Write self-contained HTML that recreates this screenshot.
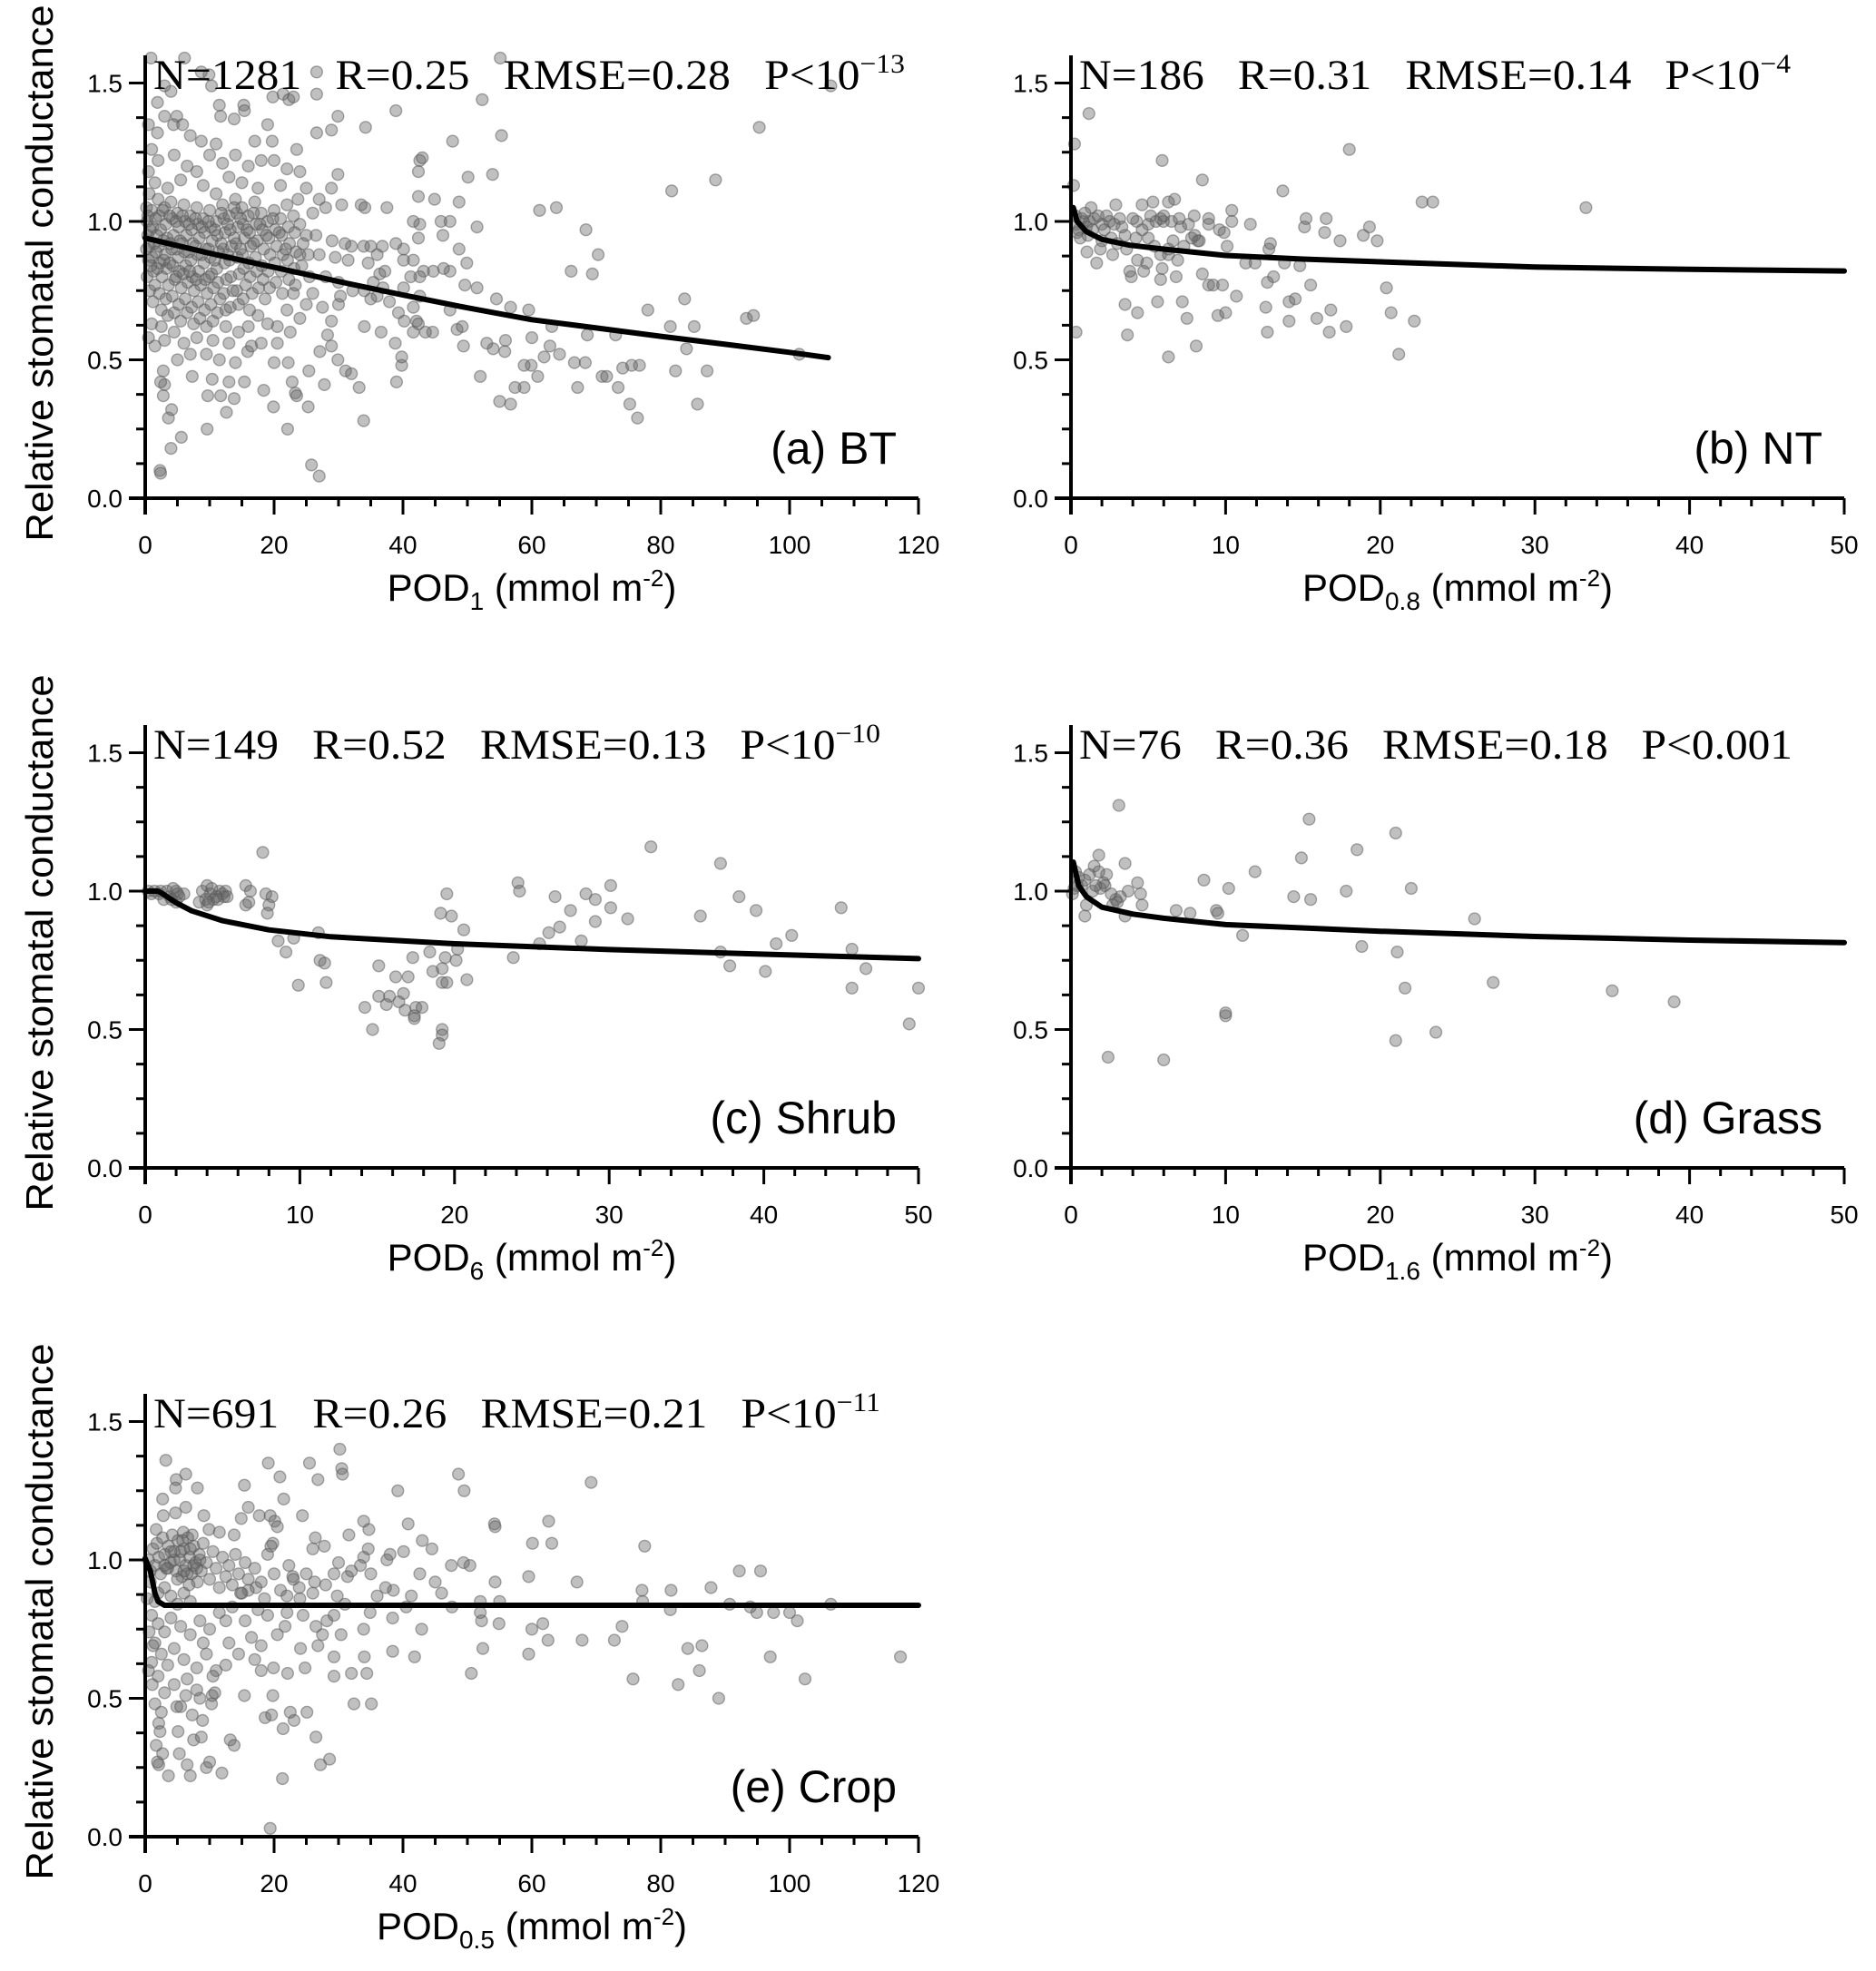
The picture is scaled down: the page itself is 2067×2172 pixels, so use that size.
<!DOCTYPE html>
<html><head><meta charset="utf-8"><style>
html,body{margin:0;padding:0;background:#fff;}
svg{display:block;}
text{fill:#000;}
.tick{font-family:"Liberation Sans",sans-serif;font-size:28px;}
.ttl{font-family:"Liberation Sans",sans-serif;font-size:42px;}
.ann{font-family:"Liberation Serif",serif;font-size:47px;}
.plab{font-family:"Liberation Sans",sans-serif;font-size:50px;}
</style></head><body>
<svg id="fig" width="2067" height="2172" viewBox="0 0 2067 2172" xmlns="http://www.w3.org/2000/svg"></svg>
<script>
// ---------- data (x = POD, y = relative stomatal conductance) ----------
const btPoints = [
[106.4,1.49],[95.3,1.34],[55.1,1.59],[52.3,1.44],[38.9,1.40],[34.2,1.34],[88.5,1.15],[81.7,1.11],[53.9,1.17],[47.7,1.29],[55.3,1.31],[50.1,1.16],[61.2,1.04],[63.8,1.05],[68.4,0.97],[70.3,0.88],[66.1,0.82],[69.4,0.81],[78,0.68],[83.7,0.72],[93.3,0.65],[94.4,0.66],[101.5,0.52],[81.5,0.62],[85.2,0.62],[82.3,0.46],[87.2,0.46],[85.7,0.34],[84,0.54],[76.4,0.29],[75.2,0.34],[73.4,0.40],[74.1,0.47],[75.5,0.48],[76.7,0.48],[73,0.59],[70.9,0.44],[71.6,0.44],[67.1,0.40],[66.6,0.49],[68.3,0.49],[68.6,0.59],[64.3,0.52],[63.1,0.62],[61.9,0.51],[62.8,0.55],[60.9,0.44],[59.9,0.48],[58.8,0.48],[58.8,0.40],[57.4,0.40],[56.7,0.34],[55,0.35],[52,0.44],[54,0.54],[55.9,0.57],[55.8,0.53],[53,0.56],[54.5,0.72],[56.7,0.69],[59.5,0.68],[60,0.58],[49.6,0.77],[51.5,0.76],[48.4,0.61],[49.2,0.62],[49.4,0.55],[47.3,0.68],[49.9,0.85],[47.3,0.82],[46.3,0.83],[48.7,0.90],[44.7,0.82],[43.2,0.82],[42.6,0.80],[41.2,0.80],[42.1,0.64],[44.6,0.60],[43.5,0.60],[41.6,0.60],[42.4,0.63],[40.2,0.64],[39.8,0.48],[39,0.42],[39.8,0.51],[38.8,0.56],[36.6,0.60],[34,0.62],[33.9,0.28],[33.2,0.40],[31.1,0.46],[32,0.45],[29.9,0.50],[27.1,0.53],[28.9,0.55],[28.3,0.59],[28.9,0.64],[27.5,0.69],[30,0.70],[30.3,0.73],[32.2,0.75],[34,0.75],[35,0.72],[36,0.73],[37.9,0.71],[39.3,0.67],[41.6,0.69],[40.1,0.86],[41.6,0.86],[42.4,0.94],[42.6,0.99],[41.6,1.00],[42.4,1.09],[44.9,1.08],[45.9,1.00],[47.3,1.00],[46.2,0.95],[48.7,1.07],[51.5,0.98],[42.6,1.22],[43,1.23],[42.4,1.18],[33.5,1.06],[34.1,1.05],[37.5,1.05],[32,0.91],[33.9,0.91],[35,0.91],[36,0.88],[36.8,0.91],[34.6,0.85],[36.4,0.81],[37.2,0.82],[35.4,0.78],[36.9,0.76],[40.1,0.90],[38.9,0.92],[42.6,0.73],[40.1,0.76],
[2.3,0.10],[2.4,0.09],[9.6,0.25],[4.0,0.18],[5.6,0.22],[3.6,0.29],[4.1,0.32],[2.8,0.37],[3,0.41],[2.4,0.42],[2.8,0.46],[7.3,0.44],[9.7,0.37],[10.4,0.43],[11.7,0.37],[12.6,0.31],[13,0.42],[13.8,0.36],[15.4,0.42],[15.9,0.53],[18.4,0.39],[19.9,0.33],[22.1,0.25],[22.8,0.42],[23.3,0.38],[23.5,0.37],[25.3,0.33],[25.8,0.12],[27,0.08],[27.8,0.41],[25.4,0.46],[22.2,0.49],[20,0.49],
[0.9,1.59],[9.9,1.53],[10.3,1.49],[3,1.49],[4,1.47],[1.9,1.43],[4.9,1.38],[3,1.38],[4.4,1.35],[5.8,1.35],[1.9,1.32],[0.5,1.35],[15.3,1.42],[15.4,1.40],[13.8,1.37],[11.5,1.42],[11.7,1.38],[19.8,1.45],[21.4,1.46],[22.3,1.44],[23,1.45],[19,1.35],[19.7,1.29],[17,1.29],[23.5,1.26],[26.6,1.32],[26.6,1.46],[26.6,1.54],[28.9,1.33],[29.9,1.38],[29.9,1.17],[28.9,1.12],[27,1.08],[23.7,1.08],[6.1,1.59],[8.7,1.54],[11,1.28],[8.7,1.29],[7,1.31],[1,1.26],[2,1.22],[4.5,1.24],[6.5,1.20],[8,1.18],[10,1.24],[12,1.21],[14,1.24],[16,1.20],[18,1.22],[20,1.22],[22,1.19],[24,1.18],[13,1.16],[15,1.14],[17.5,1.12],[21,1.13],[25,1.12],[1.5,1.14],[3.5,1.12],[5.5,1.15],[9,1.13],[11,1.10],[0.5,1.18],[26,1.03],[28,1.05],[30.5,1.06],[29,0.93],[31,0.92],[26.5,0.95],[24.5,0.92],[24,0.88],[27,0.88],[29.5,0.87],[31.5,0.86],[25.5,0.80],[28,0.80],[30,0.78],[26,0.74],[23,0.74],[25,0.70],[22,0.68],[24,0.65],[20.5,0.62],[22.5,0.60],[19,0.63],[17.5,0.66],[16,0.62],[14.5,0.60],[12.5,0.62],[18,0.56],[20.5,0.56],[16.5,0.55],[13,0.56],[10.5,0.57],[8,0.58],[6,0.56],[4.5,0.60],[2.5,0.62],[1,0.63],[3,0.57],[7,0.52],[9.5,0.52],[11.5,0.50],[14,0.49],[5,0.50],[1.5,0.55],[0.5,0.58],
[0.2,1.05],[0.3,1.0],[0.4,0.95],[0.2,0.90],[0.5,0.86],[0.3,0.80],[0.6,1.10],[0.7,0.75],[1,1.04],[1.2,0.98],[1.4,0.92],[1.1,0.87],[1.3,0.82],[1.5,0.77],[1.2,0.71],[2,1.08],[2.2,1.02],[2.4,0.97],[2.1,0.91],[2.3,0.85],[2.6,0.80],[2.2,0.74],[2.5,0.68],[3,1.05],[3.2,0.99],[3.4,0.94],[3.1,0.88],[3.3,0.83],[3.6,0.77],[3.2,0.72],[3.5,0.66],[4,1.07],[4.2,1.01],[4.4,0.95],[4.1,0.90],[4.3,0.84],[4.6,0.79],[4.2,0.73],[4.5,0.67],[5,1.03],[5.2,0.98],[5.4,0.93],[5.1,0.87],[5.3,0.82],[5.6,0.76],[5.2,0.70],[5.5,0.64],[6,1.06],[6.2,1.00],[6.4,0.95],[6.1,0.89],[6.3,0.84],[6.6,0.78],[6.2,0.72],[6.5,0.67],[7,1.02],[7.2,0.97],[7.4,0.92],[7.1,0.86],[7.3,0.80],[7.6,0.75],[7.2,0.69],[7.5,0.63],[8,1.05],[8.2,0.99],[8.4,0.94],[8.1,0.88],[8.3,0.82],[8.6,0.77],[8.2,0.71],[8.5,0.65],[9,1.01],[9.2,0.96],[9.4,0.90],[9.1,0.85],[9.3,0.79],[9.6,0.74],[9.2,0.68],[9.5,0.62],[10,1.04],[10.2,0.98],[10.4,0.93],[10.1,0.87],[10.3,0.81],[10.6,0.76],[10.2,0.70],[10.5,0.64],[11,1.00],[11.2,0.95],[11.4,0.89],[11.1,0.83],[11.3,0.78],[11.6,0.72],[11.2,0.67],[12,1.06],[12.2,1.01],[12.4,0.96],[12.1,0.90],[12.3,0.85],[12.6,0.79],[12.2,0.74],[12.5,0.68],[13,1.02],[13.2,0.97],[13.4,0.91],[13.1,0.86],[13.3,0.80],[13.6,0.75],[13.2,0.69],[14,1.08],[14.2,1.03],[14.4,0.98],[14.1,0.92],[14.3,0.87],[14.6,0.81],[14.2,0.75],[14.5,0.70],[15,1.05],[15.2,0.99],[15.4,0.94],[15.1,0.88],[15.3,0.83],[15.6,0.77],[15.2,0.72],[16,1.02],[16.2,0.96],[16.4,0.91],[16.1,0.85],[16.3,0.80],[16.6,0.74],[16.2,0.68],[17,1.07],[17.2,0.99],[17.4,0.93],[17.1,0.87],[17.3,0.82],[17.6,0.76],[18,1.03],[18.2,0.97],[18.4,0.90],[18.1,0.84],[18.3,0.79],[18.6,0.72],[19,1.00],[19.2,0.94],[19.4,0.88],[19.1,0.82],[19.3,0.76],[20,1.04],[20.2,0.97],[20.4,0.91],[20.1,0.85],[20.3,0.78],[21,1.01],[21.2,0.95],[21.4,0.88],[21.1,0.82],[21.3,0.74],[22,1.06],[22.2,0.98],[22.4,0.92],[22.1,0.86],[22.3,0.79],[23,1.02],[23.2,0.96],[23.4,0.89],[23.1,0.83],[23.3,0.77],[24,0.99],[24.3,0.84],[25,0.95],[25.3,0.88],
[0.4,1.02],[0.8,0.97],[0.6,0.91],[0.9,0.84],[1.6,1.01],[1.8,0.95],[1.7,0.89],[1.9,0.83],[2.7,1.04],[2.8,0.93],[2.9,0.86],[3.8,1.02],[3.9,0.92],[3.8,0.85],[4.8,1.00],[4.9,0.90],[4.8,0.80],[5.8,1.02],[5.8,0.92],[5.9,0.81],[6.8,0.99],[6.8,0.89],[6.9,0.82],[7.8,1.01],[7.8,0.91],[7.9,0.79],[8.8,0.98],[8.8,0.88],[9.8,1.00],[9.8,0.90],[9.9,0.80],[10.8,0.97],[10.8,0.86],[11.8,1.03],[11.8,0.92],[12.8,0.99],[12.8,0.88],[13.8,1.05],[13.8,0.94],[14.8,1.01],[14.8,0.90],[15.8,0.97],[16.8,1.03],[16.8,0.92],[17.8,0.99],[18.8,0.95],[19.8,1.01],[20.8,0.96],[21.8,0.90]
];
const ntPoints = [
[1.16,1.39],[0.23,1.28],[0.17,1.13],[5.9,1.22],[8.5,1.15],[13.7,1.11],[18,1.26],[22.7,1.07],[23.4,1.07],[33.3,1.05],[0.33,0.60],[3.65,0.59],[6.3,0.51],[8.1,0.55],[21.2,0.52],[12.7,0.60],[16.7,0.60],[17.8,0.62],[22.2,0.64],[20.7,0.67],[20.4,0.76],[3.5,0.70],[4.3,0.67],[5.6,0.71],[7.2,0.71],[7.5,0.65],[9.5,0.66],[10,0.67],[10.7,0.73],[12.6,0.69],[14.1,0.64],[14.1,0.71],[14.5,0.72],[15.9,0.65],[16.8,0.68],[15.5,0.77],[13.1,0.80],[12.7,0.78],[8.9,0.77],[9.2,0.77],[9.8,0.77],[8.5,0.81],[6.8,0.80],[5.8,0.79],[3.9,0.80],[3.8,0.82],[4.7,0.82],[4.9,0.85],[5.9,0.83],[4.3,0.86],[1.66,0.85],[1.03,0.89],[1.9,0.90],[2.7,0.88],[3.6,0.90],[5.8,0.88],[6.3,0.88],[6.9,0.86],[6.3,0.90],[7.3,0.91],[8.2,0.93],[8.3,0.93],[10.1,0.91],[11.3,0.85],[11.9,0.85],[12.8,0.90],[12.9,0.92],[13.8,0.85],[14.8,0.84],[17.4,0.93],[18.9,0.95],[19.8,0.93],[19.3,0.98],[16.4,0.96],[15.1,0.98],[15.2,1.01],[16.5,1.01],[11.6,0.99],[10.4,1.0],[10.4,1.04],[9.6,0.97],[9.9,0.96],[8.9,1.01],[7.97,1.02],[7.8,0.94],[7.1,0.98],[6.5,1.0],[6.7,1.08],[6.3,1.07],[5.3,1.07],[4.6,1.06],[2.9,1.06],[1.3,1.05],[5.0,0.99],[4.2,0.94],[5,0.94],[3.5,0.95],[5.98,1.0],[5.15,1.02],[3.15,1.01],[2.5,1.0],[2,0.99],[1.5,1.01],[0.8,1.0],[0.33,0.99],[0.5,0.97],[0.6,0.94],[1.2,1.0],[1.76,1.02],[2.16,0.97],[2.8,0.99],[4.25,1.0],[5.5,1.0],[5.8,1.01],[8.9,0.99],[0.3,1.02],[0.7,1.01],[1.0,0.98],[1.4,0.97],[0.9,1.03],[2.3,1.02],[3.3,0.98],[4.0,1.01],[6.0,1.02],[7.0,1.01],[7.6,0.99],[8.0,0.95],[2.0,0.93],[2.6,0.94],[3.0,0.92],[4.6,0.97],[5.4,0.91],[6.6,0.93],[0.4,0.96],[1.1,0.95]
];
const shrubPoints = [
[7.6,1.14],[32.7,1.16],[37.2,1.10],[6.5,1.02],[6.8,1.0],[6.5,0.95],[6.7,0.96],[7.8,0.99],[8.2,0.98],[8,0.95],[7.9,0.92],[24.1,1.03],[24.2,1.0],[26.5,0.98],[28.5,0.99],[29.1,0.97],[30.1,1.02],[30.1,0.94],[27.5,0.93],[31.2,0.90],[29.1,0.89],[35.9,0.91],[38.4,0.98],[39.5,0.93],[45,0.94],[41.8,0.84],[40.8,0.81],[45.7,0.79],[46.6,0.72],[37.2,0.78],[37.8,0.73],[40.1,0.71],[45.7,0.65],[50,0.65],[49.4,0.52],[26.8,0.87],[26.1,0.85],[28.2,0.82],[25.5,0.81],[23.8,0.76],[20.6,0.86],[20.2,0.79],[20.1,0.75],[20.8,0.68],[19.8,0.91],[19.1,0.92],[19.5,0.99],[18.4,0.78],[19.4,0.76],[19.2,0.72],[18.6,0.71],[19.2,0.67],[19.5,0.67],[17.3,0.76],[17,0.69],[16.2,0.69],[15.1,0.73],[15.1,0.62],[15.8,0.62],[16.7,0.63],[16.4,0.60],[15.6,0.59],[14.2,0.58],[16.8,0.57],[17.5,0.58],[17.9,0.58],[17.4,0.55],[17.4,0.54],[14.7,0.50],[19.2,0.50],[19.2,0.48],[19,0.45],[11.2,0.85],[9.6,0.83],[8.6,0.82],[9.1,0.78],[11.3,0.75],[11.6,0.74],[9.9,0.66],[11.7,0.67],
[0.2,1.0],[0.4,0.99],[0.6,1.0],[0.9,0.99],[1.4,1.0],[1.6,0.98],[2.0,1.0],[2.0,0.96],[2.2,0.98],[1.8,1.01],[1.2,0.97],[2.5,0.99],[3.7,1.0],[4.0,1.02],[4.2,0.99],[4.4,0.97],[4.8,1.0],[5.1,0.98],[5.0,0.99],[4.3,1.01],[4.0,0.95],[3.9,0.97],[4.6,0.98],[5.2,1.0],[3.5,0.96],[1.0,1.0],[2.1,0.99],[4.7,0.97],[5.3,0.98],[4.1,0.96],[1.7,0.97]
];
const grassPoints = [
[3.1,1.31],[15.4,1.26],[21,1.21],[18.5,1.15],[14.9,1.12],[11.9,1.07],[8.6,1.04],[10.2,1.01],[14.4,0.98],[15.5,0.97],[17.8,1.0],[22,1.01],[26.1,0.90],[18.8,0.80],[21.1,0.78],[11.1,0.84],[21.6,0.65],[27.3,0.67],[35,0.64],[39,0.60],[10,0.55],[10,0.56],[21,0.46],[23.6,0.49],[2.4,0.40],[6,0.39],[6.8,0.93],[7.7,0.92],[9.4,0.93],[9.5,0.92],[3.5,1.10],[1.8,1.13],[1.5,1.09],[4.3,1.03],[4.5,0.99],[4.6,0.95],[3.5,0.91],[0.9,0.91],[1.0,0.95],[2.7,0.95],[2.9,0.97],[3.7,1.0],[2.3,1.06],[2.2,1.02],[1.8,1.07],[0.3,1.07],[0.5,1.05],[0.2,1.01],[0.1,0.99],[0.7,1.02],[1.2,1.06],[1.4,1.0],[1.9,1.01],[2.6,0.99],[2.1,1.03],[0.9,1.04],[0.4,1.02],[1.6,1.02],[3.2,0.98],[3.0,0.96]
];
const cropPoints = [
[30.2,1.40],[3.2,1.36],[19.1,1.35],[25.5,1.35],[30.5,1.33],[30.6,1.31],[6.3,1.31],[4.8,1.29],[20.9,1.30],[26.8,1.29],[48.6,1.31],[69.2,1.28],[4.7,1.26],[8.1,1.26],[15.4,1.27],[39.2,1.25],[49.5,1.25],[21.5,1.22],[2.7,1.22],[6.3,1.19],[16,1.19],[4.7,1.17],[9.1,1.16],[2.8,1.16],[17.7,1.16],[19.4,1.16],[24.4,1.16],[14.9,1.15],[20.1,1.14],[20.5,1.12],[33.9,1.14],[40.8,1.13],[54.2,1.13],[54.3,1.12],[62.6,1.14],[34.7,1.11],[9.9,1.11],[1.7,1.11],[5.9,1.10],[7.3,1.09],[11.5,1.10],[13.8,1.09],[31.6,1.09],[60.1,1.06],[63.1,1.06],[77.5,1.05],[26.4,1.08],[19.8,1.06],[43,1.07],[44.5,1.04],[40.1,1.03],[38,1.02],[34.6,1.04],[33.9,1.01],[27.8,1.05],[26,1.04],
[19.4,0.03],[21.3,0.21],[3.6,0.22],[7,0.22],[11.9,0.23],[9.5,0.25],[10,0.27],[6.5,0.26],[2.1,0.26],[1.9,0.27],[2.7,0.30],[1.7,0.33],[5.3,0.30],[7.5,0.35],[8.7,0.36],[13.2,0.35],[13.8,0.33],[26.5,0.36],[27.2,0.26],[28.6,0.28],[21.4,0.39],[18.6,0.43],[19.6,0.44],[23.1,0.42],[22.5,0.45],[25.1,0.45],[5.1,0.38],[2.1,0.41],[2.3,0.38],[8.9,0.42],[7.3,0.44],[4.9,0.47],[6.3,0.51],[8.5,0.50],[10.3,0.48],[10.4,0.51],[10.8,0.52],[15.4,0.51],[19.8,0.51],[32.4,0.48],[35.1,0.48],[89,0.50],[102.4,0.57],[82.7,0.55],[75.7,0.57],[86,0.60],[97,0.65],[117.2,0.65],[84.2,0.68],[86.4,0.69],[50.6,0.59],[41.8,0.65],[38.4,0.67],[34,0.65],[29.3,0.65],[32,0.59],[34.4,0.59],[29.3,0.58],[22.1,0.59],[18,0.60],[19.9,0.61],[17,0.64],[24.8,0.61],[24.1,0.68],[26.8,0.69],[59.5,0.66],[52.4,0.68],[62.5,0.71],[67.8,0.71],[72.8,0.71],[74,0.76],[60,0.75],[61.7,0.77],[54.9,0.77],[52.2,0.78],[42.9,0.75],[33.9,0.75],[30.4,0.73],[27.5,0.73],[21.7,0.76],[26.5,0.76],[28.2,0.78],[29.3,0.80],[38.4,0.79],[34.9,0.81],[101.2,0.78],[100,0.81],[97.5,0.81],[94.9,0.81],[93.9,0.83],[90.7,0.84],[106.4,0.84],[81.5,0.82],[92.2,0.96],[95.5,0.96],[87.8,0.90],[81.6,0.89],[77.1,0.89],[77.2,0.85],[67,0.92],[59.5,0.94],[54.3,0.92],[55,0.85],[52,0.85],[52,0.81],[47.6,0.83],[46,0.88],[45,0.92],[42.6,0.95],[47.5,0.98],[49.4,0.99],[50.4,0.98],[41.3,0.87],[40.5,0.83],[38.5,0.89],[36,0.87],[37.3,0.90],[37.5,1.0],[35,0.95],[33.4,0.98],[31.4,0.94],[29.3,0.95],[31,0.84],[29.8,0.87],[26.3,0.92],[23.9,0.90],[22.9,0.94],[22.3,0.98],[19,1.02],[19.5,1.05],[17.2,0.90],[16,0.89],[14.8,0.88],
[0.5,1.0],[0.8,0.96],[1.2,1.04],[1.5,0.98],[1.8,1.06],[2.1,1.01],[2.4,0.95],[2.7,1.08],[3.0,1.02],[3.3,0.97],[3.6,1.05],[3.9,0.99],[4.2,1.09],[4.5,1.03],[4.8,0.96],[5.1,1.07],[5.4,1.0],[5.7,0.94],[6.0,1.04],[6.3,0.98],[6.6,1.08],[6.9,1.01],[7.2,0.95],[7.5,1.05],[7.8,0.99],[8.1,0.92],[8.4,1.02],[8.7,0.96],[9.0,1.06],[9.5,0.99],[10,0.93],[10.5,1.03],[11,0.97],[11.5,0.90],[12,1.01],[12.5,0.94],[13,0.98],[13.5,0.91],[14,1.02],[14.5,0.95],[15,0.88],[15.5,0.99],[16,0.93],[17,0.97],[18,0.92],[18.5,0.86],[20,0.95],[21,0.89],[22,0.87],[23,0.93],[24,0.86],[25,0.95],[26,0.88],[28,0.91],[30,0.99],[32,0.96],[3.0,0.90],[2.0,0.88],[1.5,0.85],[4.0,0.87],[5.0,0.84],[6.0,0.88],[7.0,0.85],[1.0,0.80],[2.0,0.77],[3.0,0.74],[4.0,0.79],[5.5,0.76],[7.0,0.73],[8.5,0.78],[10,0.75],[11.5,0.81],[13,0.70],[12.5,0.78],[9,0.70],[1.5,0.70],[2.5,0.66],[3.5,0.62],[1.0,0.63],[2.0,0.58],[4.5,0.68],[6.0,0.64],[8.0,0.61],[9.5,0.66],[11,0.60],[6.5,0.57],[4.5,0.55],[3.0,0.52],[1.5,0.48],[2.5,0.45],[5.5,0.47],[8.0,0.53],[10.5,0.58],[12.5,0.62],[14.5,0.66],[0.8,0.92],[0.3,0.86],[0.6,0.74],[1.2,0.69],[0.5,0.60],[1.1,0.55],[13.5,0.83],[15.5,0.78],[17.5,0.82],[19,0.80],[16.5,0.72],[18,0.69],[20.5,0.73],[22,0.81],[24.5,0.80],
[3.5,0.97],[4.5,1.0],[5.5,1.03],[6.5,0.95],[7.5,0.98],[8.5,1.0],[5.0,0.93],[6.0,0.96],[7.0,1.04],[4.0,1.03],[3.0,0.98],[8.0,0.97],[6.8,0.91],[5.8,1.07]
];
// fitted curves: [x, y]
const btCurve = [[0,0.94],[10,0.885],[20,0.834],[30,0.783],[40,0.734],[50,0.688],[60,0.645],[70,0.615],[80,0.585],[90,0.556],[100,0.527],[106,0.508]];
const ntCurve = [[0.15,1.05],[0.4,1.0],[1,0.963],[2,0.935],[3.8,0.914],[6,0.9],[10,0.877],[15,0.864],[20,0.854],[30,0.835],[40,0.827],[50,0.821]];
const shrubCurve = [[0,1.0],[0.8,1.0],[1,0.995],[2,0.958],[3,0.929],[5,0.893],[8,0.86],[12,0.835],[20,0.81],[30,0.789],[40,0.772],[50,0.756]];
const grassCurve = [[0.15,1.105],[0.5,1.02],[1,0.98],[2,0.942],[4,0.917],[6,0.902],[10,0.879],[20,0.855],[30,0.836],[40,0.823],[50,0.814]];
const cropCurve = [[0,1.005],[0.8,0.96],[1.5,0.88],[2,0.85],[3,0.836],[120,0.836]];
// ticks
const xTicks120 = [0,20,40,60,80,100,120];
const xTicks50 = [0,10,20,30,40,50];
const yTicks = [0,0.5,1.0,1.5];
const yTickLabels = ["0.0","0.5","1.0","1.5"];

// ---------- drawing ----------
const NS = "http://www.w3.org/2000/svg";
const svg = document.getElementById('fig');
function mk(tag, attrs, parent) {
  const e = document.createElementNS(NS, tag);
  for (const k in attrs) e.setAttribute(k, attrs[k]);
  (parent || svg).appendChild(e);
  return e;
}
const SP = '\u00a0\u00a0\u00a0';
const PPU = 305;
const panels = [
  {id:'a', pts:btPoints, curve:btCurve, left:160, right:1012, y0:549, xmax:120, ticks:xTicks120, minor:5, sub:'1', label:'(a) BT', stats:['N=1281','R=0.25','RMSE=0.28','P<10','\u221213'], statW:828},
  {id:'b', pts:ntPoints, curve:ntCurve, left:1180, right:2032, y0:549, xmax:50, ticks:xTicks50, minor:2, sub:'0.8', label:'(b) NT', stats:['N=186','R=0.31','RMSE=0.14','P<10','\u22124'], statW:784},
  {id:'c', pts:shrubPoints, curve:shrubCurve, left:160, right:1012, y0:1287, xmax:50, ticks:xTicks50, minor:2, sub:'6', label:'(c) Shrub', stats:['N=149','R=0.52','RMSE=0.13','P<10','\u221210'], statW:801},
  {id:'d', pts:grassPoints, curve:grassCurve, left:1180, right:2032, y0:1287, xmax:50, ticks:xTicks50, minor:2, sub:'1.6', label:'(d) Grass', stats:['N=76','R=0.36','RMSE=0.18','P<0.001',''], statW:786},
  {id:'e', pts:cropPoints, curve:cropCurve, left:160, right:1012, y0:2024, xmax:120, ticks:xTicks120, minor:5, sub:'0.5', label:'(e) Crop', stats:['N=691','R=0.26','RMSE=0.21','P<10','\u221211'], statW:801}
];
panels.forEach(p => {
  const g = mk('g', {});
  
  
  const sx = v => p.left + v / p.xmax * (p.right - p.left);
  const sy = v => p.y0 - v * PPU;
  const pg = mk('g', {}, g);
  
  
  p.pts.forEach(d => {
    const c = mk('circle', {cx: sx(d[0]).toFixed(1), cy: sy(d[1]).toFixed(1), r: 6.4, fill: '#6a6a6a', 'fill-opacity': 0.42, stroke: '#555', 'stroke-opacity': 0.5, 'stroke-width': 1.4}, pg);
    
    
  });
  const path = mk('path', {d: p.curve.map((d, i) => (i ? 'L' : 'M') + sx(d[0]).toFixed(1) + ' ' + sy(d[1]).toFixed(1)).join(' '), fill: 'none', stroke: '#000', 'stroke-width': 6, 'stroke-linejoin': 'round', 'stroke-linecap': 'round'}, g);
  
  
  const ax = mk('g', {stroke: '#000', 'stroke-width': 3}, g);
  
  
  mk('line', {x1: p.left, y1: sy(1.6), x2: p.left, y2: p.y0 + 18, 'stroke-width': 4}, ax);
  mk('line', {x1: p.left - 18, y1: p.y0, x2: p.right, y2: p.y0, 'stroke-width': 4}, ax);
  for (let v = 0; v <= p.xmax + 1e-9; v += p.minor) {
    const major = p.ticks.some(t => Math.abs(t - v) < 1e-9);
    mk('line', {x1: sx(v), y1: p.y0, x2: sx(v), y2: p.y0 + (major ? 18 : 9)}, ax);
  }
  for (let v = 0; v <= 1.6; v += 0.125) {
    const major = yTicks.some(t => Math.abs(t - v) < 1e-9);
    mk('line', {x1: p.left, y1: sy(v), x2: p.left - (major ? 18 : 10), y2: sy(v)}, ax);
  }
  p.ticks.forEach(t => {
    const tx = mk('text', {x: sx(t), y: p.y0 + 61, 'text-anchor': 'middle', class: 'tick'}, g);
    tx.textContent = t;
    
    
  });
  yTicks.forEach((t, i) => {
    const ty = mk('text', {x: p.left - 25, y: sy(t) + 10, 'text-anchor': 'end', class: 'tick'}, g);
    ty.textContent = yTickLabels[i];
    
    
  });
  const xt = mk('text', {x: (p.left + p.right) / 2, y: p.y0 + 113, 'text-anchor': 'middle', class: 'ttl'}, g);
  
  
  mk('tspan', {}, xt).textContent = 'POD';
  mk('tspan', {dy: 10, 'font-size': 28}, xt).textContent = p.sub;
  mk('tspan', {dy: -10}, xt).textContent = ' (mmol m';
  mk('tspan', {dy: -16, 'font-size': 26}, xt).textContent = '-2';
  mk('tspan', {dy: 16}, xt).textContent = ')';
  const st = mk('text', {x: p.left + 9, y: sy(1.6) + 37, class: 'ann', textLength: p.statW, lengthAdjust: 'spacingAndGlyphs'}, g);
  
  
  mk('tspan', {}, st).textContent = p.stats[0] + SP + p.stats[1] + SP + p.stats[2] + SP + p.stats[3];
  if (p.stats[4]) mk('tspan', {dy: -18, 'font-size': 30}, st).textContent = p.stats[4];
  const pl = mk('text', {x: p.right - 24, y: p.y0 - 38, 'text-anchor': 'end', class: 'plab'}, g);
  pl.textContent = p.label;
  
  
});
[549, 1287, 2024].forEach(y0 => {
  const cy = y0 - 248;
  const t = mk('text', {x: 0, y: 0, transform: 'translate(58,' + cy + ') rotate(-90)', 'text-anchor': 'middle', class: 'ttl', 'font-size': 40, textLength: 591, lengthAdjust: 'spacingAndGlyphs'});
  t.textContent = 'Relative stomatal conductance';
  
  
});
</script>
</body></html>
